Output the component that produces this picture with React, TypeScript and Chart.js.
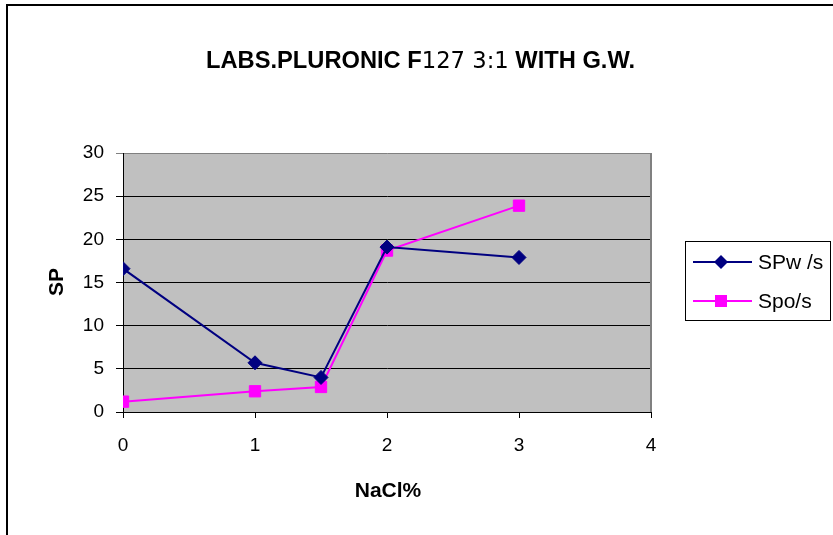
import React, { useEffect, useRef } from "react";
import { Chart, registerables } from "chart.js";

Chart.register(...registerables);

const naclPercent = [0, 1, 1.5, 2, 3];
const spwValues = [16.6, 5.7, 4.0, 19.1, 17.9];
const spoValues = [1.2, 2.4, 2.9, 18.7, 23.9];
const seriesNames = ["SPw /s", "Spo/s"];
const titleParts = [
  { text: "LABS.PLURONIC F", bold: true },
  { text: "127 3:1", bold: false },
  { text: " WITH G.W.", bold: true },
];
const xAxisTitle = "NaCl%";
const yAxisTitle = "SP";

const NAVY = "#000080";
const MAGENTA = "#FF00FF";

const decorPlugin = {
  id: "decor",
  beforeDraw(chart: any) {
    const { ctx, chartArea: a } = chart;
    ctx.save();
    ctx.fillStyle = "#ffffff";
    ctx.fillRect(0, 0, chart.width, chart.height);
    ctx.strokeStyle = "#000";
    ctx.lineWidth = 2;
    ctx.beginPath();
    ctx.moveTo(7, chart.height);
    ctx.lineTo(7, 5);
    ctx.lineTo(chart.width, 5);
    ctx.stroke();
    ctx.fillStyle = "#C0C0C0";
    ctx.fillRect(a.left, a.top, a.right - a.left, a.bottom - a.top);
    ctx.restore();
  },
  afterDatasetsDraw(chart: any) {
    const { ctx, chartArea: a } = chart;
    ctx.save();
    ctx.strokeStyle = "#808080";
    ctx.lineWidth = 2;
    ctx.beginPath();
    ctx.moveTo(a.right, a.top);
    ctx.lineTo(a.right, a.bottom);
    ctx.stroke();
    ctx.restore();
  },
  afterDraw(chart: any) {
    const { ctx } = chart;
    ctx.save();
    const fontB = 'bold 24px "Liberation Sans", Arial, sans-serif';
    const fontN = '23px "DejaVu Sans", sans-serif';
    let total = 0;
    const widths: number[] = [];
    for (const p of titleParts) {
      ctx.font = p.bold ? fontB : fontN;
      const w = ctx.measureText(p.text).width;
      widths.push(w);
      total += w;
    }
    const target = 429;
    const sx = target / total;
    ctx.translate(206, 68);
    ctx.scale(sx, 1);
    ctx.fillStyle = "#000";
    ctx.textBaseline = "alphabetic";
    ctx.textAlign = "left";
    let x = 0;
    titleParts.forEach((p, i) => {
      ctx.font = p.bold ? fontB : fontN;
      ctx.fillText(p.text, x, 0);
      x += widths[i];
    });
    ctx.restore();

    ctx.save();
    ctx.fillStyle = "#000";
    ctx.font = 'bold 21px "Liberation Sans", Arial, sans-serif';
    ctx.textAlign = "center";
    ctx.textBaseline = "middle";
    ctx.fillText(xAxisTitle, 388, 491);
    ctx.translate(57, 282);
    ctx.rotate(-Math.PI / 2);
    ctx.fillText(yAxisTitle, 0, 0);
    ctx.restore();

    ctx.save();
    ctx.strokeStyle = "#000";
    ctx.lineWidth = 1;
    ctx.strokeRect(685.5, 241.5, 145, 79);
    const rows = [
      { y: 262, color: NAVY, marker: "diamond" },
      { y: 301, color: MAGENTA, marker: "square" },
    ];
    rows.forEach((r, i) => {
      ctx.strokeStyle = r.color;
      ctx.lineWidth = 2;
      ctx.beginPath();
      ctx.moveTo(693, r.y);
      ctx.lineTo(752, r.y);
      ctx.stroke();
      ctx.fillStyle = r.color;
      ctx.beginPath();
      if (r.marker === "diamond") {
        ctx.moveTo(721, r.y - 7);
        ctx.lineTo(728, r.y);
        ctx.lineTo(721, r.y + 7);
        ctx.lineTo(714, r.y);
        ctx.closePath();
      } else {
        ctx.rect(715, r.y - 6, 12, 12);
      }
      ctx.fill();
      ctx.fillStyle = "#000";
      ctx.font = '21px "Liberation Sans", Arial, sans-serif';
      ctx.textAlign = "left";
      ctx.textBaseline = "middle";
      ctx.fillText(seriesNames[i], 758, r.y + 1);
    });
    ctx.restore();
  },
};

export default function App() {
  const ref = useRef<HTMLCanvasElement>(null);
  useEffect(() => {
    document.body.style.margin = "0";
    const canvas = ref.current!;
    const tickFont = { family: '"Liberation Sans", Arial, sans-serif', size: 19 };
    const chart = new Chart(canvas, {
      type: "line",
      data: {
        datasets: [
          {
            label: seriesNames[0],
            data: naclPercent.map((x, i) => ({ x, y: spwValues[i] })),
            borderColor: NAVY,
            backgroundColor: NAVY,
            borderWidth: 2,
            pointStyle: "rectRot",
            pointRadius: 7,
            pointBorderWidth: 1,
            pointBackgroundColor: NAVY,
            pointBorderColor: NAVY,
            tension: 0,
          },
          {
            label: seriesNames[1],
            data: naclPercent.map((x, i) => ({ x, y: spoValues[i] })),
            borderColor: MAGENTA,
            backgroundColor: MAGENTA,
            borderWidth: 2,
            pointStyle: "rect",
            pointRadius: 8,
            pointBorderWidth: 1,
            pointBackgroundColor: MAGENTA,
            pointBorderColor: MAGENTA,
            tension: 0,
          },
        ],
      },
      options: {
        animation: false,
        responsive: false,
        maintainAspectRatio: false,
        layout: { padding: { left: 20, right: 182, top: 153, bottom: 63 } },
        plugins: {
          legend: { display: false },
          title: { display: false },
          tooltip: { enabled: false },
        },
        scales: {
          x: {
            type: "linear",
            min: 0,
            max: 4,
            ticks: { stepSize: 1, color: "#000", font: tickFont, padding: 16 },
            grid: {
              drawOnChartArea: false,
              drawTicks: true,
              tickLength: 6,
              color: "#000",
            },
            border: { display: true, color: "#000", width: 1 },
            afterFit(scale: any) {
              scale.height = 60;
            },
          },
          y: {
            min: 0,
            max: 30,
            ticks: { stepSize: 5, color: "#000", font: tickFont, padding: 12 },
            grid: {
              drawTicks: true,
              tickLength: 7,
              color: (c: any) => (c.tick && c.tick.value === 30 ? "#808080" : "#000"),
              lineWidth: 1,
            },
            border: { display: true, color: "#000", width: 1 },
            afterFit(scale: any) {
              scale.width = 103;
            },
          },
        },
      } as any,
      plugins: [decorPlugin],
    });
    return () => chart.destroy();
  }, []);
  return <canvas ref={ref} width={833} height={535} style={{ display: "block" }} />;
}
